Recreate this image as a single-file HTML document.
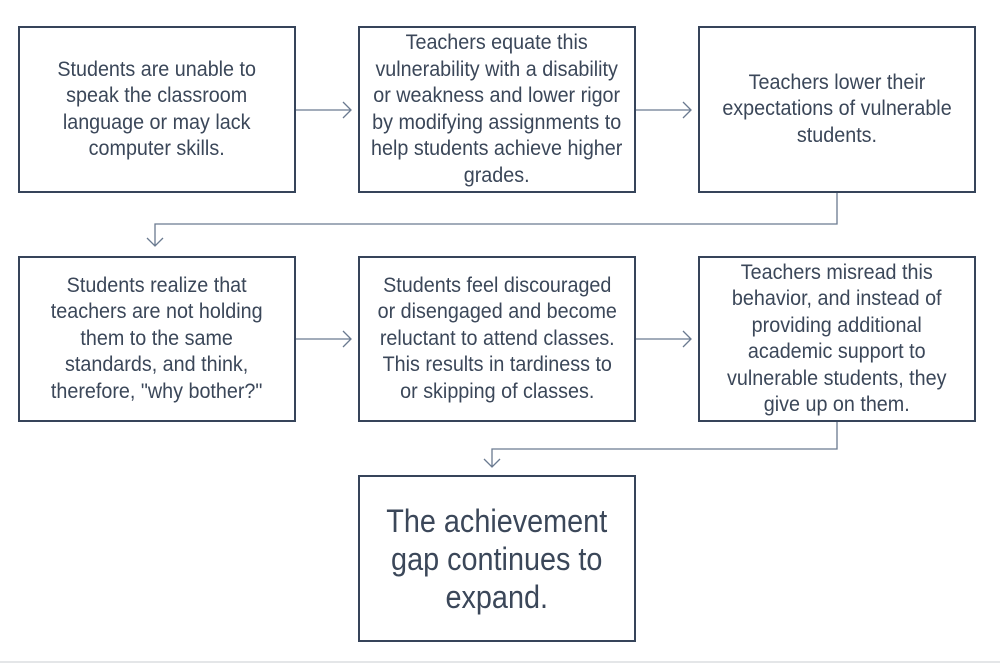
<!DOCTYPE html>
<html><head><style>
body{margin:0;width:1000px;height:667px;background:#fff;position:relative;overflow:hidden;font-family:"Liberation Sans",sans-serif;color:#3b4759}
.b{position:absolute;box-sizing:border-box;border:2px solid #36445a;display:flex;align-items:center;justify-content:center;text-align:center}
.b span{display:block;white-space:nowrap;font-size:21px;line-height:26.5px;transform:scaleX(0.94)}
.big span{font-size:32px;line-height:38px;transform:scaleX(0.9)}
svg{position:absolute;left:0;top:0}
</style></head><body>
<div class="b" style="left:18px;top:26px;width:278px;height:167px"><span>Students are unable to<br>speak the classroom<br>language or may lack<br>computer skills.</span></div>
<div class="b" style="left:358px;top:26px;width:278px;height:167px"><span>Teachers equate this<br>vulnerability with a disability<br>or weakness and lower rigor<br>by modifying assignments to<br>help students achieve higher<br>grades.</span></div>
<div class="b" style="left:698px;top:26px;width:278px;height:167px"><span>Teachers lower their<br>expectations of vulnerable<br>students.</span></div>
<div class="b" style="left:18px;top:256px;width:278px;height:166px"><span>Students realize that<br>teachers are not holding<br>them to the same<br>standards, and think,<br>therefore, "why bother?"</span></div>
<div class="b" style="left:358px;top:256px;width:278px;height:166px"><span>Students feel discouraged<br>or disengaged and become<br>reluctant to attend classes.<br>This results in tardiness to<br>or skipping of classes.</span></div>
<div class="b" style="left:698px;top:256px;width:278px;height:166px"><span>Teachers misread this<br>behavior, and instead of<br>providing additional<br>academic support to<br>vulnerable students, they<br>give up on them.</span></div>
<div class="b big" style="left:358px;top:475px;width:278px;height:167px"><span>The achievement<br>gap continues to<br>expand.</span></div>
<svg width="1000" height="667" fill="none" stroke="#6a7a90" stroke-width="1.3">
<path d="M296 110H351M343 102L351 110L343 118"/>
<path d="M636 110H691M683 102L691 110L683 118"/>
<path d="M296 339H351M343 331L351 339L343 347"/>
<path d="M636 339H691M683 331L691 339L683 347"/>
<path d="M837 193V224H155V246M147 238L155 246L163 238"/>
<path d="M837 422V449H492V467M484 459L492 467L500 459"/>
<path d="M0 662H1000" stroke="#e4e6e8" stroke-width="2"/>
</svg>
</body></html>
